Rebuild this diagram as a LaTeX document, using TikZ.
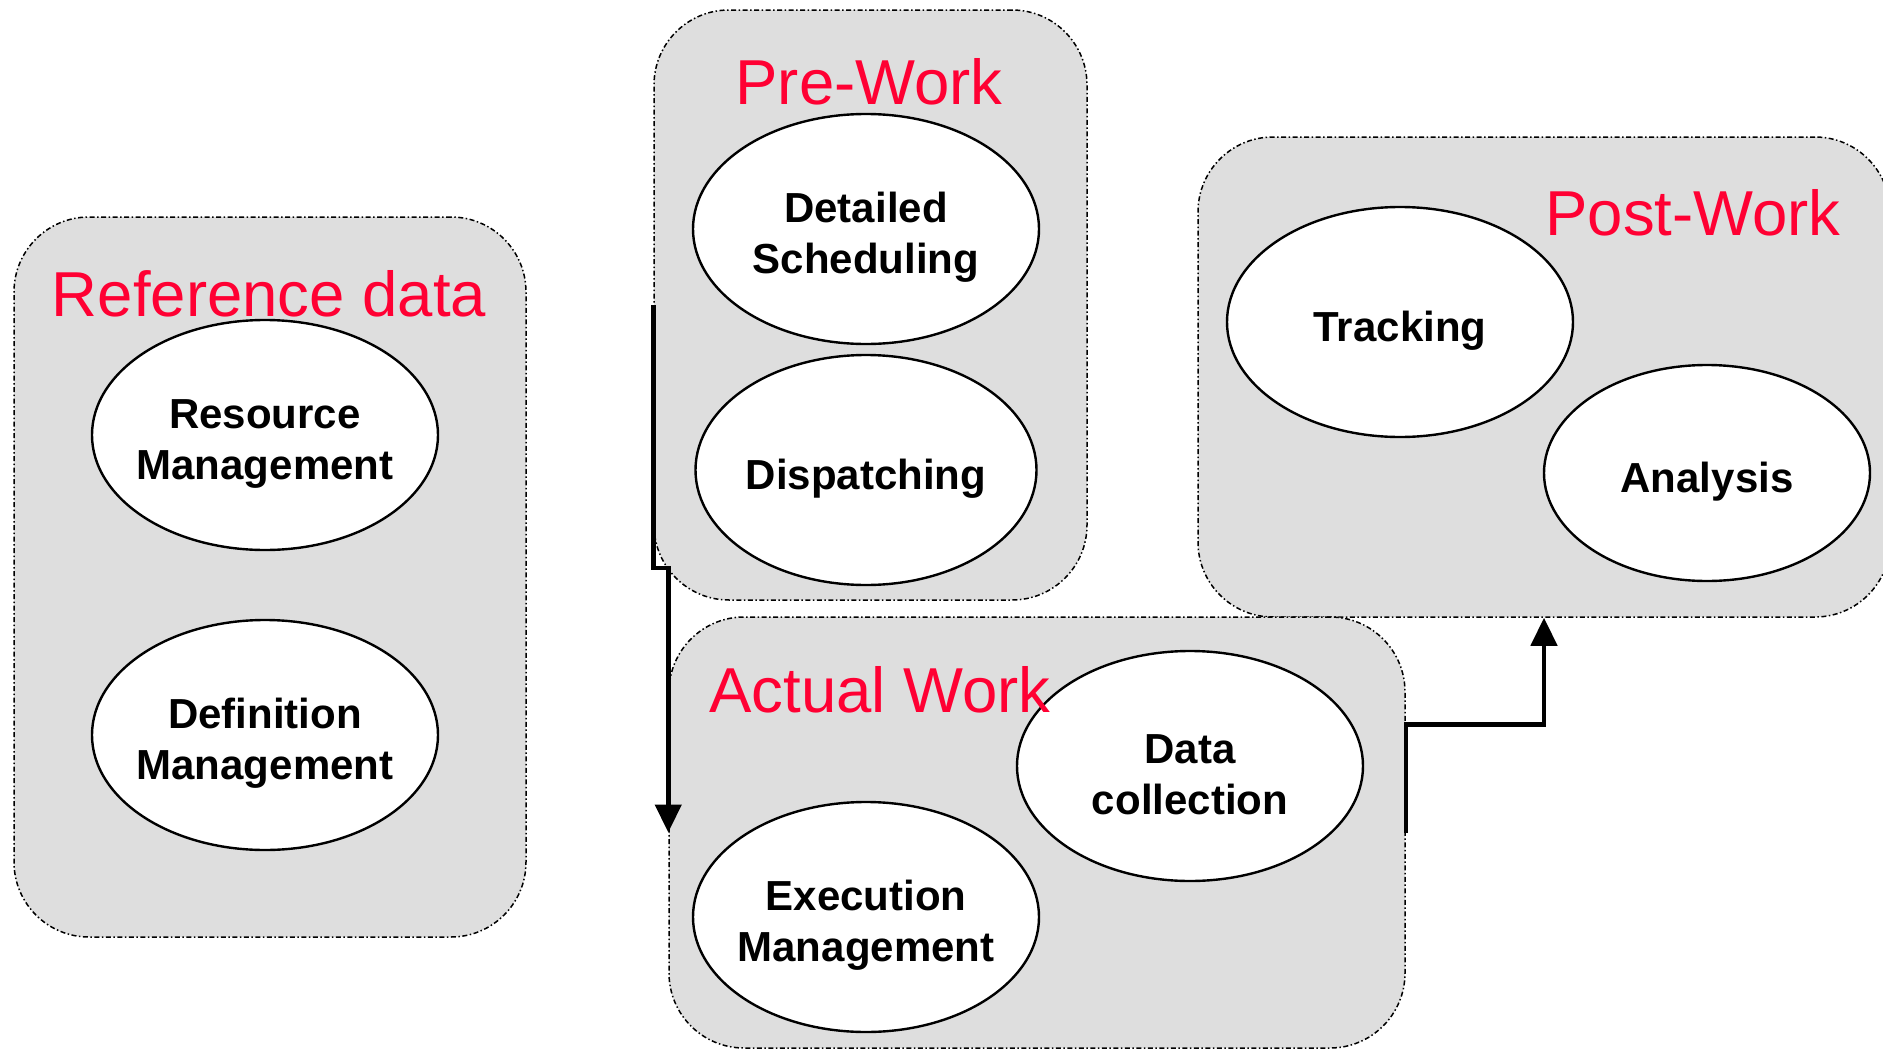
\documentclass[tikz,border=0pt]{standalone}
\usepackage{fontspec}
\setmainfont{Liberation Sans}
\usetikzlibrary{shapes.geometric,arrows.meta}
\definecolor{boxgray}{RGB}{222,222,222}
\definecolor{titlered}{RGB}{255,0,51}
\newcommand{\lowerstrut}{\rule{0pt}{47pt}}
\tikzset{
	stage/.style={draw,fill=boxgray,rounded corners=75pt,line width=1.5pt,
		dash pattern=on 5pt off 2.5pt on 1.5pt off 2.5pt,inner sep=0pt},
	oval/.style={ellipse,draw,fill=white,line width=2.4pt,inner xsep=-10pt,inner ysep=0pt,
		minimum width=346pt,minimum height=230pt,align=center,
		font=\fontsize{42}{51}\selectfont\bfseries},
	stagetitle/.style={text=titlered,inner sep=0pt,font=\fontsize{63.5}{70}\selectfont},
	flow/.style={line width=4.5pt,-{Triangle[width=26pt,length=28pt]}}
}
\begin{document}
\begin{tikzpicture}[x=1pt,y=-1pt]
\useasboundingbox (0,0) rectangle (1883,1052);
\clip (0,0) rectangle (1883,1052);

% stage boxes
\node[stage,minimum width=512pt,minimum height=720pt] (ref) at (270,577) {};
\node[stage,minimum width=433pt,minimum height=590pt] (pre) at (870.5,305) {};
\node[stage,minimum width=692pt,minimum height=480pt] (post) at (1544,377) {};
\node[stage,minimum width=736pt,minimum height=431pt] (act) at (1037,832.5) {};

% activities
\node[oval] (resource) at (265,435) {\lowerstrut Resource\\Management};
\node[oval] (definition) at (265,735) {\lowerstrut Definition\\Management};
\node[oval] (scheduling) at (866,229) {\lowerstrut Detailed\\Scheduling};
\node[oval,minimum width=341pt] (dispatching) at (866,470) {\lowerstrut Dispatching};
\node[oval] (tracking) at (1400,322) {\lowerstrut Tracking};
\node[oval,minimum width=326pt,minimum height=216pt] (analysis) at (1707,473) {\lowerstrut Analysis};
\node[oval] (collection) at (1190,766) {\lowerstrut Data\\collection};
\node[oval] (execution) at (866,917) {\lowerstrut Execution\\Management};

% titles
\node[stagetitle] (reftitle) at (269,294) {Reference data};
\node[stagetitle] (pretitle) at (869,82) {Pre-Work};
\node[stagetitle] (posttitle) at (1693,213) {Post-Work};
\node[stagetitle] (acttitle) at (880,690) {Actual Work};

% flow between stages
\draw[flow] (pre.west) -- ++(0,263) -| (act.west);
\draw[flow] (act.east) -- ++(0,-108) -| (post.south);
\end{tikzpicture}
\end{document}
